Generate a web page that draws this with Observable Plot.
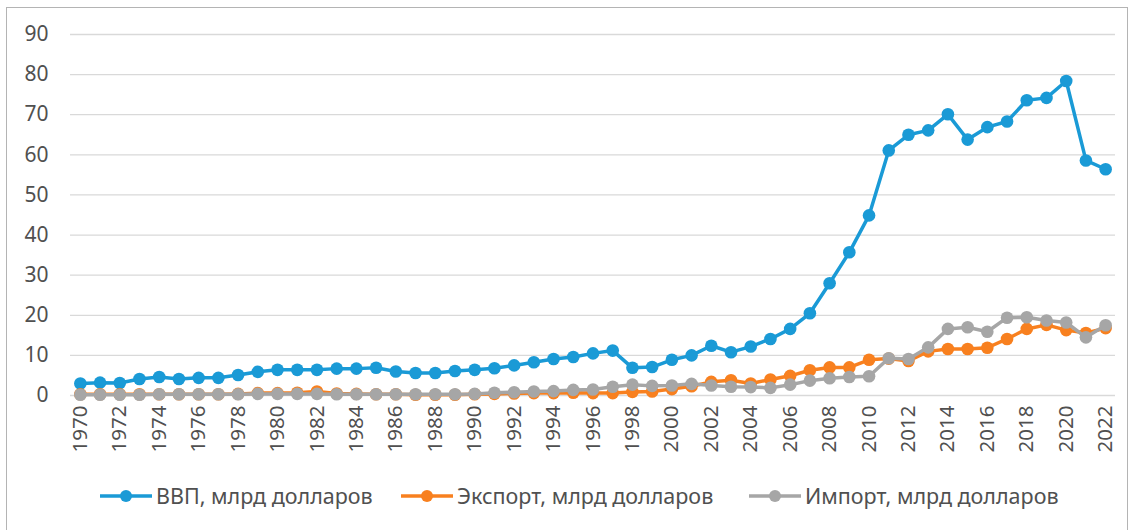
<!DOCTYPE html>
<html>
<head>
<meta charset="utf-8">
<script src="https://cdn.jsdelivr.net/npm/d3@7"></script>
<script src="https://cdn.jsdelivr.net/npm/@observablehq/plot@0.6"></script>
<style>
  html, body { margin: 0; padding: 0; background: #fff; overflow: hidden; }
  body { width: 1134px; height: 530px; position: relative; font-family: 'Noto Sans', sans-serif; }
  #frame { position: absolute; left: 6px; top: 7px; width: 1122px; height: 560px; border: 1px solid #b4b4b4; box-sizing: border-box; }
  #chart { position: absolute; left: 0; top: 0; }
  #legend { position: absolute; left: 0; top: 481px; width: 1134px; height: 32px; }
  .item { position: absolute; top: 0; display: flex; align-items: center; font-size: 21.5px; color: #505050; white-space: nowrap; }
  .item svg { margin-right: 4px; }
</style>
</head>
<body>
<div id="frame"></div>
<div id="chart"></div>
<div id="legend"></div>
<script>
const years = [1970,1971,1972,1973,1974,1975,1976,1977,1978,1979,
  1980,1981,1982,1983,1984,1985,1986,1987,1988,1989,
  1990,1991,1992,1993,1994,1995,1996,1997,1998,1999,
  2000,2001,2002,2003,2004,2005,2006,2007,2008,2009,
  2010,2011,2012,2013,2014,2015,2016,2017,2018,2019,
  2020,2021,2022];

const yearLabels = [1970,1972,1974,1976,1978,1980,1982,1984,1986,1988,1990,1992,1994,1996,
  1998,2000,2002,2004,2006,2008,2010,2012,2014,2016,2018,2020,2022];

const yTicks = [0,10,20,30,40,50,60,70,80,90];

const seriesNames = ["ВВП, млрд долларов", "Экспорт, млрд долларов", "Импорт, млрд долларов"];
const seriesColors = ["#1a9ad6", "#f8801f", "#a6a6a6"];

const gdp = [3.0,3.2,3.1,4.1,4.6,4.1,4.4,4.4,5.1,5.9,
  6.4,6.4,6.4,6.7,6.7,6.9,6.0,5.6,5.6,6.1,
  6.4,6.8,7.5,8.3,9.1,9.6,10.5,11.2,6.9,7.1,
  8.9,10.0,12.4,10.8,12.2,14.1,16.6,20.5,28.0,35.7,
  44.9,61.1,65.0,66.1,70.1,63.8,66.9,68.3,73.6,74.2,
  78.4,58.6,56.4];

const exportVals = [0.3,0.3,0.3,0.3,0.3,0.3,0.3,0.3,0.4,0.6,
  0.6,0.7,1.0,0.5,0.4,0.3,0.3,0.2,0.2,0.2,
  0.3,0.4,0.5,0.6,0.6,0.7,0.6,0.6,0.9,1.0,
  1.6,2.3,3.4,3.8,3.0,4.0,4.9,6.3,7.0,7.0,
  8.9,9.2,8.6,11.0,11.6,11.6,11.9,14.1,16.6,17.6,
  16.3,15.6,16.8];

const importVals = [0.2,0.2,0.2,0.2,0.3,0.3,0.3,0.3,0.3,0.4,
  0.4,0.4,0.4,0.3,0.3,0.3,0.3,0.3,0.3,0.3,
  0.4,0.7,0.8,1.0,1.1,1.4,1.5,2.2,2.7,2.4,
  2.5,2.9,2.5,2.2,2.1,1.9,2.7,3.7,4.3,4.6,
  4.8,9.3,9.1,12.0,16.6,17.0,15.9,19.4,19.5,18.7,
  18.2,14.5,17.5];

const seriesValues = [gdp, exportVals, importVals];

const data = [];
seriesNames.forEach((name, s) => {
  years.forEach((year, i) => data.push({series: name, year, value: seriesValues[s][i]}));
});

const seriesMarks = seriesNames.flatMap(name => [
  Plot.line(data.filter(d => d.series === name), {x: "year", y: "value", stroke: "series", strokeWidth: 3.5, curve: "linear"}),
  Plot.dot(data.filter(d => d.series === name), {x: "year", y: "value", fill: "series", r: 6.3, stroke: "none"})
]);

const chart = Plot.plot({
  width: 1134,
  height: 470,
  marginLeft: 70,
  marginRight: 19,
  marginTop: 34,
  marginBottom: 75,
  x: {type: "point", domain: years, padding: 0.5},
  y: {domain: [0, 90]},
  color: {domain: seriesNames, range: seriesColors},
  style: {fontFamily: "'Noto Sans', sans-serif", fontSize: "21px", color: "#505050", background: "transparent", overflow: "visible"},
  marks: [
    Plot.ruleY(yTicks, {stroke: "#d9d9d9", strokeWidth: 1.3}),
    Plot.axisY({ticks: yTicks, tickSize: 0, tickPadding: 22, label: null, fontSize: 21, tickFormat: d => String(d)}),
    Plot.axisX({ticks: yearLabels, tickSize: 0, tickPadding: 10, tickRotate: -90, label: null, fontSize: 20.5, tickFormat: d => String(d)}),
    ...seriesMarks
  ]
});
document.getElementById("chart").appendChild(chart);

const legendLeft = [100, 401, 749];
const legend = document.getElementById("legend");
seriesNames.forEach((name, i) => {
  const item = document.createElement("div");
  item.className = "item";
  item.style.left = legendLeft[i] + "px";
  item.innerHTML = `<svg width="52" height="16"><line x1="0" x2="52" y1="8" y2="8" stroke="${seriesColors[i]}" stroke-width="3.5"/><circle cx="26" cy="8" r="6" fill="${seriesColors[i]}"/></svg><span>${name}</span>`;
  legend.appendChild(item);
});
</script>
</body>
</html>
